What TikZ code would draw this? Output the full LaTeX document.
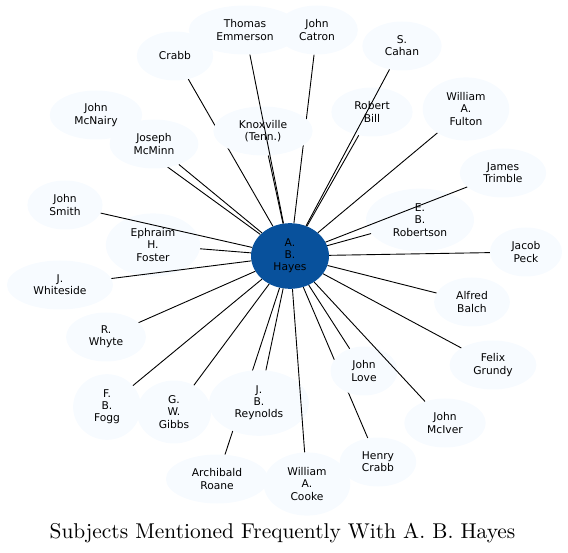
\documentclass[tikz,border=0pt]{standalone}
\usepackage{fontspec}
\usepackage{xcolor}
\usepackage{tikz}
\usetikzlibrary{shapes.geometric,backgrounds}
\newfontfamily\nodefont{DejaVu Sans}
\newfontfamily\titlefont[Extension=.otf]{lmroman10-regular}
\definecolor{bluelight}{HTML}{F7FBFF}
\definecolor{bluedark}{HTML}{08519C}

\begin{document}
\begin{tikzpicture}[x=1pt,y=-1pt,line join=round,
  subj/.style={ellipse,fill=bluelight,align=center,inner xsep=11pt,inner ysep=6pt,
    minimum height=49pt,font=\nodefont\fontsize{10.7}{12.2}\selectfont},
  hub/.style={subj,fill=bluedark},
  link/.style={line width=0.9pt,black}]
  \useasboundingbox (0,0) rectangle (568,553);
  \node[subj] (emmerson) at (245,30) {Thomas\\Emmerson};
  \node[subj] (crabb) at (175,56) {Crabb};
  \node[subj] (catron) at (317,30) {John\\Catron};
  \node[subj] (cahan) at (402,46) {S.\\Cahan};
  \node[subj] (bill) at (372,112) {Robert\\Bill};
  \node[subj] (fulton) at (466,109) {William\\A.\\Fulton};
  \node[subj] (trimble) at (503,173) {James\\Trimble};
  \node[subj] (robertson) at (420,220) {E.\\B.\\Robertson};
  \node[subj] (peck) at (526,252) {Jacob\\Peck};
  \node[subj] (knox) at (263,131) {Knoxville\\(Tenn.)};
  \node[subj] (mcnairy) at (96,115) {John\\McNairy};
  \node[subj] (mcminn) at (154,144) {Joseph\\McMinn};
  \node[subj] (smith) at (65,205) {John\\Smith};
  \node[subj] (foster) at (153,245) {Ephraim\\H.\\Foster};
  \node[subj] (whiteside) at (60,285) {J.\\Whiteside};
  \node[subj] (whyte) at (106,337) {R.\\Whyte};
  \node[subj] (fogg) at (107,407) {F.\\B.\\Fogg};
  \node[subj] (gibbs) at (174,412) {G.\\W.\\Gibbs};
  \node[subj] (reynolds) at (259,403) {J.\\B.\\Reynolds};
  \node[subj] (roane) at (217,479) {Archibald\\Roane};
  \node[subj] (cooke) at (307,484) {William\\A.\\Cooke};
  \node[subj] (hcrabb) at (378,462) {Henry\\Crabb};
  \node[subj] (love) at (364,371) {John\\Love};
  \node[subj] (mciver) at (445,423) {John\\McIver};
  \node[subj] (grundy) at (493,365) {Felix\\Grundy};
  \node[subj] (balch) at (472,302) {Alfred\\Balch};
  \node[hub] (hayes) at (290,256) {A.\\B.\\Hayes};
  \begin{pgfonlayer}{background}
    \draw[link] (hayes) -- (crabb);
    \draw[link] (hayes) -- (catron);
    \draw[link] (hayes) -- (mcnairy);
    \draw[link] (hayes) -- (roane);
    \draw[link] (hayes) -- (hcrabb);
  \end{pgfonlayer}
  \draw[link] (hayes) -- (emmerson);
  \draw[link] (hayes) -- (cahan);
  \draw[link] (hayes) -- (bill);
  \draw[link] (hayes) -- (fulton);
  \draw[link] (hayes) -- (trimble);
  \draw[link] (hayes) -- (robertson);
  \draw[link] (hayes) -- (peck);
  \draw[link] (hayes) -- (knox);
  \draw[link] (hayes) -- (mcminn);
  \draw[link] (hayes) -- (smith);
  \draw[link] (hayes) -- (foster);
  \draw[link] (hayes) -- (whiteside);
  \draw[link] (hayes) -- (whyte);
  \draw[link] (hayes) -- (fogg);
  \draw[link] (hayes) -- (gibbs);
  \draw[link] (hayes) -- (reynolds);
  \draw[link] (hayes) -- (cooke);
  \draw[link] (hayes) -- (love);
  \draw[link] (hayes) -- (mciver);
  \draw[link] (hayes) -- (grundy);
  \draw[link] (hayes) -- (balch);
  \node[anchor=base,font=\titlefont\fontsize{21.4}{24}\selectfont] (title) at (282.5,538)
    {Subjects Mentioned Frequently With A. B. Hayes};
\end{tikzpicture}
\end{document}
